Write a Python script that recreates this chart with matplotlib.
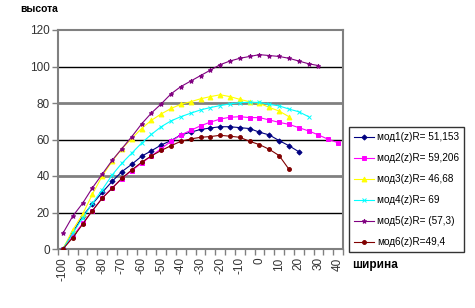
import numpy as np
import matplotlib.pyplot as plt

plt.rcParams['font.family'] = ['Liberation Sans', 'DejaVu Sans']

# категории по ширине
shirina = [-100, -95, -90, -85, -80, -75, -70, -65, -60, -55, -50, -45, -40, -35,
           -30, -25, -20, -15, -10, -5, 0, 5, 10, 15, 20, 25, 30, 35, 40]

mod1 = [0, 9, 18, 24.7, 31, 37, 42.4, 46.4, 50.8, 53.8, 57, 59.4, 62.5, 64, 65.5,
        66.3, 67, 67, 66.5, 66, 64, 62.5, 59.4, 56.6, 53.3]
mod2 = [0, 7, 14, 21, 28, 33.5, 38.5, 43, 47, 51, 55, 59, 62.5, 65, 67.5, 69.5,
        71.2, 72.2, 72.5, 72, 72, 70.7, 69.4, 68.3, 66.5, 64.7, 62.5, 60.1, 58.2]
mod3 = [0, 10.5, 19, 30, 40, 48, 55, 60.5, 66, 70.5, 74, 77, 79.3, 80.7, 82.3,
        83.5, 84.5, 83.5, 82, 80.7, 79.8, 77.6, 75.6, 72.5]
mod4 = [0, 8.5, 17, 25, 32.5, 40.5, 47, 52.5, 58, 62.8, 67, 70.2, 72.5, 74.4, 76.2,
        77.5, 78.6, 79.5, 80.2, 80.4, 80.3, 79.3, 78.4, 76.7, 75.2, 72.5]
mod5 = [8.6, 18, 25, 33.5, 41, 48.5, 55, 61.5, 68.5, 74.5, 79.5, 85, 89, 92, 95,
        98, 101, 103, 104.5, 105.5, 106.5, 106, 105.5, 104.5, 103, 101.5, 100.5]
mod6 = [0, 6.2, 13.5, 21, 27.8, 33.2, 38.8, 43.3, 47.5, 51, 54, 56.6, 59, 60.3,
        61.2, 61.6, 62.3, 61.8, 61.2, 59, 57.2, 54.6, 51.2, 43.7]

names = ['мод1(z)R= 51,153', 'мод2(z)R= 59,206', 'мод3(z)R= 46,68',
         'мод4(z)R= 69', 'мод5(z)R= (57,3)', 'мод6(z)R=49,4']
series = [mod1, mod2, mod3, mod4, mod5, mod6]
colors = ['#000080', '#ff00ff', '#ffff00', '#00ffff', '#800080', '#800000']
markers = ['D', 's', '^', 'x', '*', 'o']
msizes = [2.6, 3.2, 3.5, 3, 3.4, 2.8]

fig = plt.figure(figsize=(4.75, 3.08), dpi=100)
ax = fig.add_axes([58/475, 59/308, 285/475, 219/308])

# линии сетки
for y in [20, 40, 60, 80, 100]:
    c = '#808080' if y % 40 == 0 else 'black'
    lw = 2 if y % 40 == 0 else 1
    ax.axhline(y, color=c, lw=lw, zorder=1)

for s, nm, c, m, ms in zip(series, names, colors, markers, msizes):
    x = np.arange(len(s))
    ax.plot(x, s, color=c, marker=m, markersize=ms, lw=0.8, label=nm,
            markeredgewidth=0.7, zorder=3)

ax.set_xlim(-0.5, len(shirina) - 0.5)
ax.set_ylim(0, 120)
ax.set_yticks([0, 20, 40, 60, 80, 100, 120])
ax.tick_params(axis='y', labelsize=8.5, colors='#333333', length=4, width=1,
               direction='out', pad=2)
ax.set_xticks(np.arange(0, len(shirina), 2))
ax.set_xticklabels([str(v) for v in shirina[::2]], rotation=90)
ax.set_xticks(np.arange(len(shirina) + 1) - 0.5, minor=True)
ax.tick_params(axis='x', which='major', length=0, labelsize=8.5,
               colors='#333333', pad=6)
ax.tick_params(axis='x', which='minor', length=4, width=1, color='#808080')
ax.tick_params(axis='y', color='#808080')

for sp in ax.spines.values():
    sp.set_color('#808080')
    sp.set_linewidth(1.5)

fig.text(20/475, 1 - 9/308, 'высота', fontsize=7.5, fontweight='bold',
         ha='left', va='center')
fig.text(352/475, 1 - 265/308, 'ширина', fontsize=8.5, fontweight='bold',
         ha='left', va='center')

leg = fig.legend(loc='upper left', bbox_to_anchor=(349/475, 1 - 127/308),
                 fontsize=7.2, frameon=True, fancybox=False, handlelength=2,
                 handletextpad=0.3, borderpad=0.5, labelspacing=1.1,
                 borderaxespad=0)
leg.get_frame().set_edgecolor('black')
leg.get_frame().set_linewidth(1)

plt.savefig('out.png', dpi=100)
